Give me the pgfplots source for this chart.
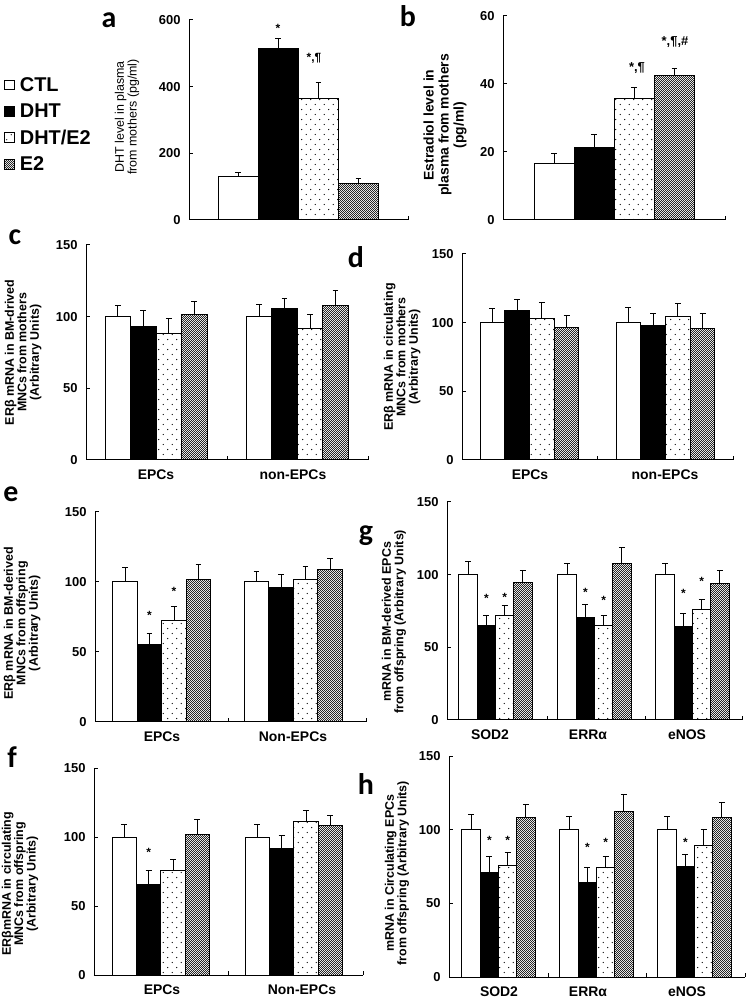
\documentclass[border=0pt]{standalone}
\usepackage{pgfplots}
\pgfplotsset{compat=1.18}
\usetikzlibrary{patterns.meta}
\usepackage{fontspec}
\setmainfont{Liberation Sans}
\newfontfamily\carlito{Carlito}

\tikzdeclarepattern{
  name=sparsedots,
  type=uncolored,
  bottom left={(0pt,0pt)},
  top right={(9pt,10pt)},
  tile size={(9pt,10pt)},
  code={\fill (2.25pt,2.5pt) circle (0.7pt); \fill (6.75pt,7.5pt) circle (0.7pt);}
}
\tikzdeclarepattern{
  name=checker,
  type=uncolored,
  bottom left={(0pt,0pt)},
  top right={(2pt,2pt)},
  tile size={(2pt,2pt)},
  code={\fill (0pt,0pt) rectangle (1pt,1pt); \fill (1pt,1pt) rectangle (2pt,2pt);}
}

\tikzset{lab/.style={align=center, anchor=center, font=\bfseries\fontsize{12.5}{12.5}\selectfont}}

\pgfplotsset{
  panel/.style={
    scale only axis,
    axis lines=left,
    axis line style={-, line width=1pt},
    xmin=0, ymin=0,
    enlargelimits=false,
    clip=false,
    tick style={line width=1pt, black},
    major tick length=4pt,
    tick align=inside,
    /pgf/number format/assume math mode=true,
    yticklabel style={font=\bfseries\fontsize{13}{13}\selectfont, xshift=-5pt},
    xticklabel style={font=\bfseries\fontsize{14}{14}\selectfont, yshift=-6pt},
    extra x tick style={major tick length=0pt},
    error bars/y dir=plus,
    error bars/y explicit,
    error bars/error bar style={line width=1pt, black},
    error bars/error mark options={rotate=90, line width=1pt, black, mark size=3pt},
  },
  sq legend/.style={legend image code/.code={\draw[##1, line width=0.8pt] (0pt,-5pt) rectangle (10pt,5pt);}},
  ctl/.style={ybar, bar shift=0pt, draw=black, line width=1pt, fill=white, sq legend},
  dht/.style={ybar, bar shift=0pt, draw=black, line width=1pt, fill=black, sq legend},
  dhte/.style={ybar, bar shift=0pt, draw=black, line width=1pt, pattern=sparsedots, pattern color=black, sq legend},
  etwo/.style={ybar, bar shift=0pt, draw=black, line width=1pt, pattern=checker, pattern color=black!85, sq legend},
}
\newcommand{\st}{\bfseries\fontsize{12}{12}\selectfont}

\begin{document}
\begin{tikzpicture}
\useasboundingbox (0,0) rectangle (750bp,1004bp);

% panel letters
\begin{scope}[every node/.style={font=\carlito\bfseries\fontsize{30}{30}\selectfont, anchor=base, inner sep=0pt}]
\node at (109bp,976bp) {a};
\node at (408bp,977bp) {b};
\node at (15bp,759bp) {c};
\node at (356bp,736bp) {d};
\node at (11bp,502bp) {e};
\node at (366bp,463bp) {g};
\node at (12bp,236bp) {f};
\node at (366bp,209bp) {h};
\end{scope}

% ---------- panel a ----------
\begin{axis}[panel, at={(189bp,784bp)}, anchor=south west, width=219bp, height=200bp,
  bar width=40,
  xmax=219, ymax=600, ytick={0,200,400,600}, xtick={219}, xticklabels={},
  ylabel={DHT level in plasma\\from mothers (pg/ml)},
  ylabel style={at={(axis description cs:-0.283,0.515)}, anchor=center, align=center, font=\fontsize{12.5}{13}\selectfont},
  legend style={draw=none, fill=none, at={(axis description cs:-0.845,0.725)}, anchor=north west,
    font=\bfseries\fontsize{20}{20}\selectfont, inner sep=0pt, row sep=7pt, cells={anchor=west},
    /tikz/every odd column/.append style={column sep=3pt}},
]
\addplot[ctl] coordinates {(49,130) +- (0,13)};
\addplot[dht] coordinates {(89,515) +- (0,30)};
\addplot[dhte] coordinates {(129.5,365) +- (0,47)};
\addplot[etwo] coordinates {(169.5,110) +- (0,15)};
\legend{CTL,DHT,DHT/E2,E2}
\node[font=\st] at (axis cs:89,576) {*};
\node[font=\st] at (axis cs:125,486) {*,¶};
\end{axis}

% ---------- panel b ----------
\begin{axis}[panel, at={(503bp,784bp)}, anchor=south west, width=222bp, height=204bp,
  bar width=40,
  xmax=222, ymax=60, ytick={0,20,40,60}, xtick={222}, xticklabels={},
  ylabel={Estradiol level in\\plasma from mothers\\(pg/ml)},
  ylabel style={at={(axis description cs:-0.261,0.466)}, anchor=center, align=center, font=\bfseries\fontsize{14}{15}\selectfont},
]
\addplot[ctl] coordinates {(51,16.7) +- (0,2.9)};
\addplot[dht] coordinates {(91,21.3) +- (0,3.8)};
\addplot[dhte] coordinates {(131,35.6) +- (0,3.3)};
\addplot[etwo] coordinates {(171.5,42.4) +- (0,2.3)};
\node[font=\bfseries\fontsize{13}{13}\selectfont] at (axis cs:134,44.7) {*,¶};
\node[font=\bfseries\fontsize{13}{13}\selectfont] at (axis cs:172,52.4) {*,¶,\#};
\end{axis}

% ---------- panel c ----------
\begin{axis}[panel, at={(86bp,544bp)}, anchor=south west, width=282bp, height=215bp,
  bar width=25.5,
  xmax=282, ymax=150, ytick={0,50,100,150}, xtick={141,282}, xticklabels={},
  extra x ticks={70,207}, extra x tick labels={EPCs,non-EPCs},
  ylabel={ERβ mRNA in BM-drived\\MNCs from mothers\\(Arbitrary Units)},
  ylabel style={lab, at={(axis description cs:-0.223,0.5)}},
]
\addplot[ctl] coordinates {(31.75,100) +- (0,8) (173,100) +- (0,8.5)};
\addplot[dht] coordinates {(57.25,93) +- (0,11.5) (198.5,106) +- (0,6.5)};
\addplot[dhte] coordinates {(82.75,88.5) +- (0,10.5) (224,91.5) +- (0,10)};
\addplot[etwo] coordinates {(108.25,101.5) +- (0,9) (249.5,108) +- (0,10.5)};
\end{axis}

% ---------- panel d ----------
\begin{axis}[panel, at={(462bp,544bp)}, anchor=south west, width=271bp, height=206bp,
  bar width=24.75,
  xmax=271, ymax=150, ytick={0,50,100,150}, xtick={135,271}, xticklabels={},
  extra x ticks={68,203}, extra x tick labels={EPCs,non-EPCs},
  ylabel={ERβ mRNA in circulating\\MNCs from mothers\\(Arbitrary Units)},
  ylabel style={lab, at={(axis description cs:-0.221,0.5)}},
]
\addplot[ctl] coordinates {(30.4,100) +- (0,10.5) (166.4,100) +- (0,11)};
\addplot[dht] coordinates {(55.1,108.5) +- (0,8.5) (191.1,97.6) +- (0,9.2)};
\addplot[dhte] coordinates {(79.9,103.2) +- (0,11.5) (215.9,104.4) +- (0,9.6)};
\addplot[etwo] coordinates {(104.6,96.6) +- (0,8.3) (240.6,95.4) +- (0,11)};
\end{axis}

% ---------- panel e ----------
\begin{axis}[panel, at={(95bp,282bp)}, anchor=south west, width=271bp, height=210bp,
  bar width=24.5,
  xmax=271, ymax=150, ytick={0,50,100,150}, xtick={133,271}, xticklabels={},
  extra x ticks={67,198}, extra x tick labels={EPCs,Non-EPCs},
  ylabel={ERβ mRNA in BM-derived\\MNCs from offspring\\(Arbitrary Units)},
  ylabel style={lab, at={(axis description cs:-0.269,0.47)}},
]
\addplot[ctl] coordinates {(30,100) +- (0,10.7) (161.5,100) +- (0,7.6)};
\addplot[dht] coordinates {(54.5,55.6) +- (0,7.6) (186,96) +- (0,9)};
\addplot[dhte] coordinates {(79,72.3) +- (0,10) (210.5,102) +- (0,9)};
\addplot[etwo] coordinates {(103.5,102) +- (0,10.6) (235,108.6) +- (0,7.9)};
\node[font=\st] at (axis cs:54.5,76) {*};
\node[font=\st] at (axis cs:79,93) {*};
\end{axis}

% ---------- panel g ----------
\begin{axis}[panel, at={(447bp,284bp)}, anchor=south west, width=295bp, height=218bp,
  bar width=18.25,
  xmax=295, ymax=150, ytick={0,50,100,150}, xtick={100,198,295}, xticklabels={},
  extra x ticks={43,141,240}, extra x tick labels={SOD2,ERRα,eNOS},
  ylabel={mRNA in BM-derived EPCs\\from offspring (Arbitrary Units)},
  ylabel style={lab, at={(axis description cs:-0.18,0.45)}},
]
\addplot[ctl] coordinates {(21.1,100) +- (0,9.4) (120.1,100) +- (0,8) (218.1,100) +- (0,8)};
\addplot[dht] coordinates {(39.4,65.2) +- (0,6.8) (138.4,70.5) +- (0,9.1) (236.4,64.5) +- (0,8.7)};
\addplot[dhte] coordinates {(57.6,71.9) +- (0,7) (156.6,65.2) +- (0,6.7) (254.6,76.2) +- (0,6.6)};
\addplot[etwo] coordinates {(75.9,94.3) +- (0,8.7) (174.9,107.6) +- (0,10.9) (272.9,93.8) +- (0,9.2)};
\node[font=\st] at (axis cs:39.4,84) {*};
\node[font=\st] at (axis cs:57.6,84.6) {*};
\node[font=\st] at (axis cs:138.4,88) {*};
\node[font=\st] at (axis cs:156.6,82.6) {*};
\node[font=\st] at (axis cs:236.4,87.4) {*};
\node[font=\st] at (axis cs:254.6,95.7) {*};
\end{axis}

% ---------- panel f ----------
\begin{axis}[panel, at={(94bp,29bp)}, anchor=south west, width=269bp, height=207bp,
  bar width=24.4,
  xmax=269, ymax=150, ytick={0,50,100,150}, xtick={134,269}, xticklabels={},
  extra x ticks={68,208}, extra x tick labels={EPCs,Non-EPCs},
  ylabel={ERβmRNA in circulating\\MNCs from offspring\\(Arbitrary Units)},
  ylabel style={lab, at={(axis description cs:-0.275,0.44)}},
]
\addplot[ctl] coordinates {(30.2,100) +- (0,9.4) (163.2,100) +- (0,9.4)};
\addplot[dht] coordinates {(54.6,65.4) +- (0,10.4) (187.6,91.5) +- (0,9.5)};
\addplot[dhte] coordinates {(79,75.8) +- (0,7.7) (212,111.3) +- (0,8.1)};
\addplot[etwo] coordinates {(103.4,101.7) +- (0,11.3) (236.4,108.5) +- (0,7)};
\node[font=\st] at (axis cs:54.6,89) {*};
\end{axis}

% ---------- panel h ----------
\begin{axis}[panel, at={(449bp,27bp)}, anchor=south west, width=296bp, height=221bp,
  bar width=18.25,
  xmax=296, ymax=150, ytick={0,50,100,150}, xtick={99,197,296}, xticklabels={},
  extra x ticks={50,139,238}, extra x tick labels={SOD2,ERRα,eNOS},
  ylabel={mRNA in Circulating EPCs\\from offspring (Arbitrary Units)},
  ylabel style={lab, at={(axis description cs:-0.176,0.47)}},
]
\addplot[ctl] coordinates {(22.1,100) +- (0,10.4) (120.1,100) +- (0,9.2) (218.1,100) +- (0,9.2)};
\addplot[dht] coordinates {(40.4,70.9) +- (0,10.8) (138.4,64.3) +- (0,10.1) (236.4,74.9) +- (0,8.3)};
\addplot[dhte] coordinates {(58.6,76) +- (0,8.4) (156.6,74.4) +- (0,7.3) (254.6,89.5) +- (0,10.6)};
\addplot[etwo] coordinates {(76.9,108) +- (0,9) (174.9,112) +- (0,12) (272.9,108) +- (0,10.4)};
\node[font=\st] at (axis cs:40.4,93) {*};
\node[font=\st] at (axis cs:58.6,93) {*};
\node[font=\st] at (axis cs:138.4,88.3) {*};
\node[font=\st] at (axis cs:156.6,91.6) {*};
\node[font=\st] at (axis cs:236.4,91.6) {*};
\end{axis}
\end{tikzpicture}
\end{document}
